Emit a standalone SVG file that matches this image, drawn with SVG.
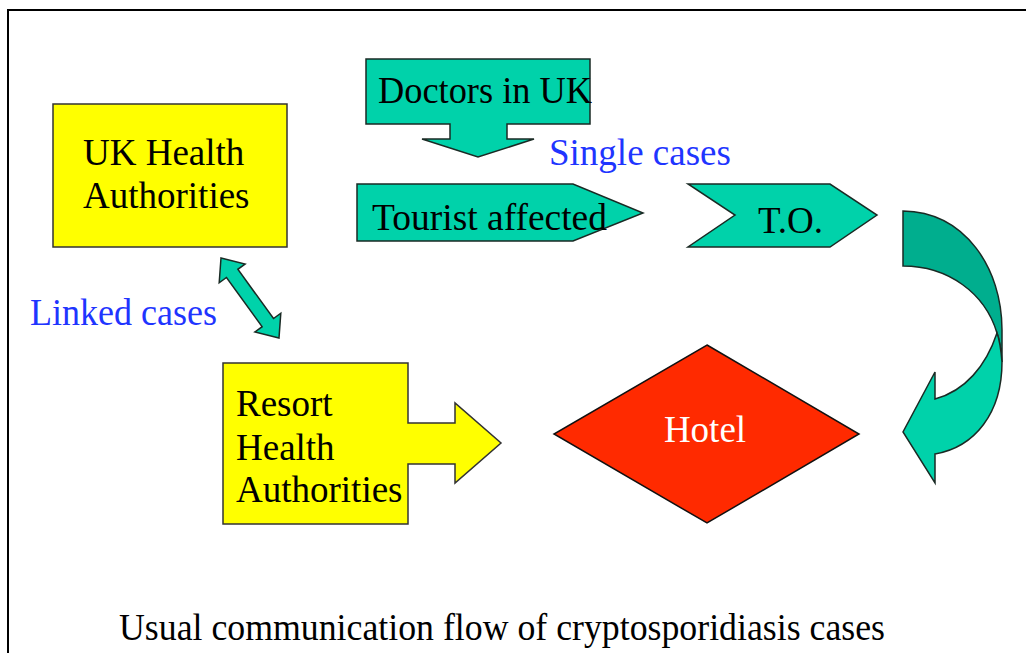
<svg xmlns="http://www.w3.org/2000/svg" width="1026" height="653" viewBox="0 0 1026 653">
<style>
text{font-family:"Liberation Serif","Times New Roman",serif;font-size:37px}
.blk{fill:#000}
.blue{fill:#1f35ff}
.wht{fill:#fff}
.teal{fill:#00d2aa;stroke:#1a2a24;stroke-width:1.5;stroke-linejoin:miter}
.dteal{fill:#00ae8e;stroke:#1a2a24;stroke-width:1.5}
.yel{fill:#ffff00;stroke:#333;stroke-width:1.5}
.red{fill:#ff2a00;stroke:#111;stroke-width:1.5}
</style>
<rect width="1026" height="653" fill="#fff"/>
<path d="M8,653 L8,10 L1026,10" fill="none" stroke="#000" stroke-width="2"/>

<g id="uk-health">
<rect class="yel" x="53" y="104" width="234" height="143"/>
<text class="blk" x="83" y="165">UK Health</text>
<text class="blk" x="83" y="208">Authorities</text>
</g>

<g id="doctors">
<polygon class="teal" points="366,59 590,59 590,124 507,124 507,139 534,139 478,157 422,139 450,139 450,124 366,124"/>
<text class="blk" x="378" y="103" textLength="214" lengthAdjust="spacingAndGlyphs">Doctors in UK</text>
</g>

<g id="tourist">
<polygon class="teal" points="357,184 573,184 643,213 573,241 357,241"/>
<text class="blk" x="372" y="230" textLength="235" lengthAdjust="spacingAndGlyphs">Tourist affected</text>
</g>

<g id="to">
<polygon class="teal" points="688,184 830,184 877,215 830,247 688,247 735,215"/>
<text class="blk" x="758" y="233">T.O.</text>
</g>

<g id="resort-health">
<polygon class="yel" points="223,363 408,363 408,423 455,423 455,403 501,443 455,483 455,464 408,464 408,524 223,524"/>
<text class="blk" x="236" y="416">Resort</text>
<text class="blk" x="236" y="460">Health</text>
<text class="blk" x="236" y="502">Authorities</text>
</g>

<g id="hotel">
<polygon class="red" points="707,345 859,434 707,523 554,434"/>
<text class="wht" x="705" y="442" text-anchor="middle">Hotel</text>
</g>

<g id="connectors">
<g id="linked-arrow" transform="translate(221,258) rotate(54.06)">
<polygon class="teal" points="0,0 19,-16 19,-7 79.8,-7 79.8,-16 98.8,0 79.8,16 79.8,7 19,7 19,16"/>
</g>
<g id="curved-arrow">
<path class="dteal" d="M903,211 C965,212 1002,268 1002,330 L1002,362 C1001,350 1000,341 997,333 C985,293 948,266 903,266 Z"/>
<path class="teal" d="M997,333 C986,366 965,391 935,399 L935,372 L903,432 L935,483 L935,454 C975,447 1002,413 1002,362 C1001,350 1000,341 997,333 Z"/>
</g>
</g>

<g id="labels">
<text class="blue" x="549" y="165">Single cases</text>
<text class="blue" x="30" y="325" textLength="187" lengthAdjust="spacingAndGlyphs">Linked cases</text>
<text class="blk" x="119" y="640" textLength="766" lengthAdjust="spacingAndGlyphs">Usual communication flow of cryptosporidiasis cases</text>
</g>
</svg>
